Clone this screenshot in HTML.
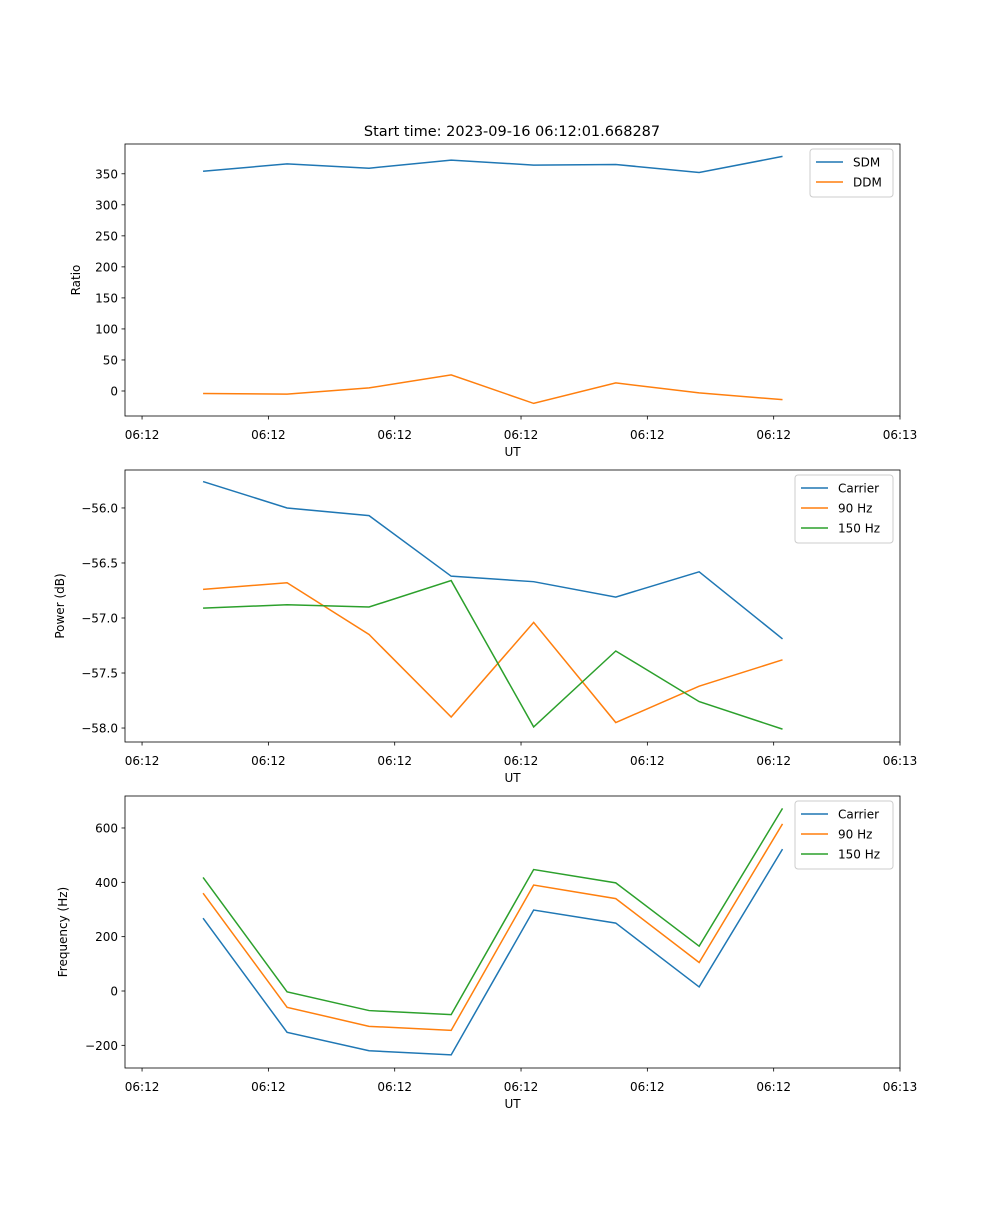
<!DOCTYPE html>
<html><head><meta charset="utf-8"><style>
body{margin:0;background:#fff}
svg text{font-family:"DejaVu Sans","Liberation Sans",sans-serif;fill:#000}
</style></head><body>
<svg id="fig" width="1000" height="1200" xmlns="http://www.w3.org/2000/svg">
<rect width="1000" height="1200" fill="#fff"/>
<text x="512" y="136" font-size="14.5" text-anchor="middle">Start time: 2023-09-16 06:12:01.668287</text>
</svg>
<script>
const times = [4.83, 11.48, 17.97, 24.47, 31.0, 37.5, 44.1, 50.7];
const xTicks = [0, 10, 20, 30, 40, 50, 60];
const xTickLabels = ["06:12","06:12","06:12","06:12","06:12","06:12","06:13"];
const sdm = [354, 366, 359, 372, 364, 365, 352, 378];
const ddm = [-4, -5, 5, 26, -20, 13, -3, -14];
const powCarrier = [-55.76, -56.0, -56.07, -56.62, -56.67, -56.81, -56.58, -57.19];
const pow90 = [-56.74, -56.68, -57.15, -57.9, -57.04, -57.95, -57.62, -57.38];
const pow150 = [-56.91, -56.88, -56.90, -56.66, -57.99, -57.30, -57.76, -58.01];
const freqCarrier = [268, -152, -220, -235, 298, 250, 15, 522];
const freq90 = [360, -60, -130, -145, 390, 340, 105, 615];
const freq150 = [418, -3, -72, -87, 447, 398, 165, 672];
const ratioTicks = [0,50,100,150,200,250,300,350];
const powTicks = [-56.0,-56.5,-57.0,-57.5,-58.0];
const freqTicks = [-200,0,200,400,600];

const svg = document.getElementById('fig');
const NS = 'http://www.w3.org/2000/svg';
function mk(tag, attrs){const e=document.createElementNS(NS,tag);for(const k in attrs)e.setAttribute(k,attrs[k]);svg.appendChild(e);return e;}
const L=125,R=900,xmin=-1.35,xmax=60.0;
function sx(v){return L+(v-xmin)/(xmax-xmin)*(R-L);}

function panel(name, top, bot, ymin, ymax, yticks, yfmt, ylabel, series, legend){
  const sy=v=>bot-(v-ymin)/(ymax-ymin)*(bot-top);
  series.forEach(s=>{
    const p=mk('polyline',{points:times.map((t,i)=>sx(t)+','+sy(s.vals[i])).join(' '),fill:'none',stroke:s.color,'stroke-width':1.5});
    
    
  });
  const f=mk('rect',{x:L,y:top,width:R-L,height:bot-top,fill:'none',stroke:'#000','stroke-width':0.8});
  
  
  xTicks.forEach((t,i)=>{
    const x=sx(t);
    mk('line',{x1:x,x2:x,y1:bot,y2:bot+3.5,stroke:'#000','stroke-width':0.8});
    const tx=mk('text',{x:x,y:bot+23,'font-size':12,'text-anchor':'middle'});
    tx.textContent=xTickLabels[i];
    
    
  });
  const xl=mk('text',{x:(L+R)/2,y:bot+40,'font-size':12,'text-anchor':'middle'});
  xl.textContent='UT';
  
  
  yticks.forEach(v=>{
    const y=sy(v);
    mk('line',{x1:L-3.5,x2:L,y1:y,y2:y,stroke:'#000','stroke-width':0.8});
    const tx=mk('text',{x:L-7,y:y+4.5,'font-size':12,'text-anchor':'end'});
    tx.textContent=yfmt(v);
    
    
  });
  const yl=mk('text',{x:0,y:0,'font-size':12,'text-anchor':'middle',transform:`translate(${legend.ylx},${(top+bot)/2}) rotate(-90)`});
  yl.textContent=ylabel;
  
  
  const lg=mk('rect',{x:legend.x,y:top+5,width:893-legend.x,height:series.length*20+8,fill:'#fff','fill-opacity':0.8,stroke:'#ccc',rx:3});
  
  
  series.forEach((s,i)=>{
    const y=top+18+i*20;
    mk('line',{x1:legend.x+6,x2:legend.x+33,y1:y,y2:y,stroke:s.color,'stroke-width':1.5});
    const t=mk('text',{x:legend.x+43,y:y+4.5,'font-size':12});
    t.textContent=s.label;
    
    
  });
}
const B='#1f77b4',O='#ff7f0e',G='#2ca02c';
panel('ratio',144,416,-40.3,398,ratioTicks,v=>String(v),'Ratio',
  [{key:'sdm',label:'SDM',color:B,vals:sdm},{key:'ddm',label:'DDM',color:O,vals:ddm}],{x:810,ylx:80});
panel('power',470,742,-58.127,-55.655,powTicks,v=>'\u2212'+Math.abs(v).toFixed(1),'Power (dB)',
  [{key:'carrier',label:'Carrier',color:B,vals:powCarrier},{key:'90hz',label:'90 Hz',color:O,vals:pow90},{key:'150hz',label:'150 Hz',color:G,vals:pow150}],{x:795,ylx:64});
panel('freq',796,1068,-283.4,717.7,freqTicks,v=>v<0?'\u2212'+Math.abs(v):String(v),'Frequency (Hz)',
  [{key:'carrier',label:'Carrier',color:B,vals:freqCarrier},{key:'90hz',label:'90 Hz',color:O,vals:freq90},{key:'150hz',label:'150 Hz',color:G,vals:freq150}],{x:795,ylx:67});
</script>
</body></html>
